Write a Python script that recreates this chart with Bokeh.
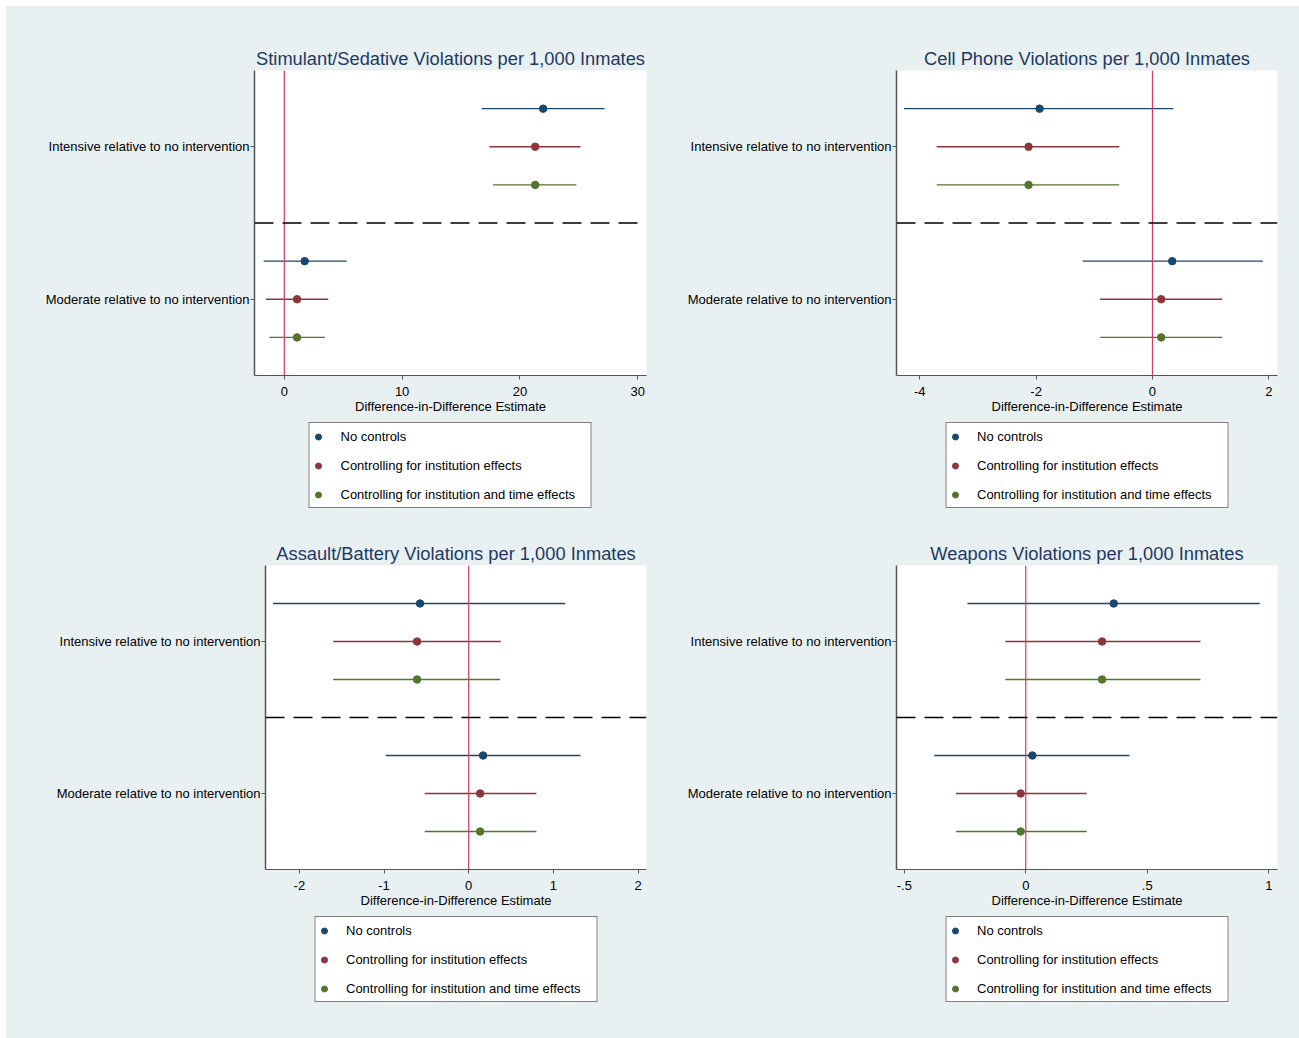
from bokeh.plotting import figure
from bokeh.models import Range1d, FixedTicker, Span, Legend, LegendItem
from bokeh.layouts import column, row
from bokeh.embed import file_html
from bokeh.resources import INLINE

# Comparison groups (y axis) and model specifications (series)
comparisons = ["Intensive relative to no intervention",
               "Moderate relative to no intervention"]
specs = ["No controls",
         "Controlling for institution effects",
         "Controlling for institution and time effects"]
spec_colors = ["#1A476F", "#90353B", "#55752F"]

# Estimates and 95% CIs: one inner list per specification,
# values ordered as [intensive, moderate]
stim_est = [[21.97, 1.73], [21.29, 1.08], [21.29, 1.08]]
stim_lo = [[16.75, -1.75], [17.40, -1.55], [17.72, -1.27]]
stim_hi = [[27.18, 5.29], [25.14, 3.73], [24.79, 3.45]]

phone_est = [[-1.94, 0.34], [-2.13, 0.15], [-2.13, 0.15]]
phone_lo = [[-4.27, -1.20], [-3.71, -0.90], [-3.71, -0.90]]
phone_hi = [[0.36, 1.90], [-0.57, 1.20], [-0.57, 1.20]]

assault_est = [[-0.575, 0.17], [-0.61, 0.135], [-0.61, 0.135]]
assault_lo = [[-2.31, -0.98], [-1.60, -0.52], [-1.60, -0.52]]
assault_hi = [[1.14, 1.32], [0.38, 0.80], [0.37, 0.80]]

weapons_est = [[0.362, 0.027], [0.314, -0.021], [0.314, -0.021]]
weapons_lo = [[-0.24, -0.377], [-0.084, -0.287], [-0.084, -0.287]]
weapons_hi = [[0.963, 0.427], [0.719, 0.251], [0.719, 0.251]]

stim_ticks = [0, 10, 20, 30]
stim_tick_labels = ["0", "10", "20", "30"]
phone_ticks = [-4, -2, 0, 2]
phone_tick_labels = ["-4", "-2", "0", "2"]
assault_ticks = [-2, -1, 0, 1, 2]
assault_tick_labels = ["-2", "-1", "0", "1", "2"]
weapons_ticks = [-0.5, 0, 0.5, 1]
weapons_tick_labels = ["-.5", "0", ".5", "1"]

BG = "#E8F0F2"
FONT = "Liberation Sans"
AXIS_COLOR = "#555555"


def make_panel(title, est, lo, hi, xr, ticks, tick_labels,
               width, height, left, right, top, bottom):
    p = figure(width=width, height=height,
               x_range=Range1d(*xr), y_range=Range1d(8, 0),
               output_backend="svg", toolbar_location=None,
               min_border_left=left, min_border_right=right,
               min_border_top=top, min_border_bottom=bottom,
               background_fill_color="white", border_fill_color=BG,
               outline_line_color=None)
    p.xgrid.visible = False
    p.ygrid.visible = False

    p.title.text = title
    p.title.align = "center"
    p.title.text_font = FONT
    p.title.text_font_size = "18.3px"
    p.title.text_font_style = "normal"
    p.title.text_color = "#1F3864"
    p.title.standoff = 4

    # zero reference and group separator
    p.add_layout(Span(location=0, dimension="height",
                      line_color="#D63A63", line_width=1.2))
    p.add_layout(Span(location=4, dimension="width",
                      line_color="black", line_width=1.5, line_dash="19 9"))

    for s, spec in enumerate(specs):
        ys = [1 + 4 * c + s for c in range(len(comparisons))]
        p.segment(x0=lo[s], y0=ys, x1=hi[s], y1=ys,
                  line_color=spec_colors[s], line_width=1.3)
        p.scatter(x=est[s], y=ys, size=7.5, marker="circle",
                  fill_color=spec_colors[s], line_color=spec_colors[s])

    # y axis: one label per comparison group
    yax = p.yaxis[0]
    yax.ticker = FixedTicker(ticks=[2, 6])
    yax.major_label_overrides = {2: comparisons[0], 6: comparisons[1]}
    yax.major_label_text_font = FONT
    yax.major_label_text_font_size = "13px"
    yax.major_label_text_color = "black"
    yax.major_label_standoff = 1
    yax.major_tick_out = 4
    yax.major_tick_in = 0
    yax.minor_tick_out = 0
    yax.minor_tick_in = 0
    yax.axis_line_color = AXIS_COLOR
    yax.axis_line_width = 1.5
    yax.major_tick_line_color = AXIS_COLOR

    xax = p.xaxis[0]
    xax.ticker = FixedTicker(ticks=ticks)
    xax.major_label_overrides = {t: l for t, l in zip(ticks, tick_labels)}
    xax.axis_label = "Difference-in-Difference Estimate"
    xax.axis_label_text_font = FONT
    xax.axis_label_text_font_size = "13px"
    xax.axis_label_text_font_style = "normal"
    xax.axis_label_text_color = "black"
    xax.axis_label_standoff = 0
    xax.major_label_text_font = FONT
    xax.major_label_text_font_size = "13px"
    xax.major_label_text_color = "black"
    xax.major_label_standoff = 7
    xax.major_tick_out = 4
    xax.major_tick_in = 0
    xax.minor_tick_out = 0
    xax.minor_tick_in = 0
    xax.axis_line_color = AXIS_COLOR
    xax.axis_line_width = 1.2
    xax.major_tick_line_color = AXIS_COLOR
    return p


def make_key(width, height, left, right):
    """Strip under a panel holding its legend, aligned to the panel frame."""
    k = figure(width=width, height=height,
               x_range=Range1d(0, 1), y_range=Range1d(0, 1),
               x_axis_location=None, y_axis_location=None,
               output_backend="svg", toolbar_location=None,
               min_border_left=left, min_border_right=right,
               min_border_top=0, min_border_bottom=0,
               background_fill_color=BG, border_fill_color=BG,
               outline_line_color=None)
    k.xgrid.visible = False
    k.ygrid.visible = False
    items = []
    for s, spec in enumerate(specs):
        # legend-only glyph: a single undefined point, so nothing is plotted
        r = k.scatter(x=[float("nan")], y=[float("nan")], size=7.5,
                      marker="circle",
                      fill_color=spec_colors[s], line_color=spec_colors[s])
        items.append(LegendItem(label=spec, renderers=[r]))
    legend = Legend(items=items, location="top", orientation="vertical",
                    border_line_color="black", border_line_width=1,
                    background_fill_color="white", background_fill_alpha=1,
                    label_text_font=FONT, label_text_font_size="13px",
                    label_text_color="black",
                    glyph_width=15, glyph_height=15,
                    label_width=249, label_height=24,
                    spacing=5, padding=1, label_standoff=15, margin=2)
    k.add_layout(legend, "center")
    return k


p1 = make_panel("Stimulant/Sedative Violations per 1,000 Inmates",
                stim_est, stim_lo, stim_hi, (-2.53, 30.74),
                stim_ticks, stim_tick_labels, 644, 414, 248, 4, 64, 45)
p2 = make_panel("Cell Phone Violations per 1,000 Inmates",
                phone_est, phone_lo, phone_hi, (-4.40, 2.15),
                phone_ticks, phone_tick_labels, 649, 414, 246, 22, 64, 45)
p3 = make_panel("Assault/Battery Violations per 1,000 Inmates",
                assault_est, assault_lo, assault_hi, (-2.40, 2.10),
                assault_ticks, assault_tick_labels, 644, 389, 259, 4, 40, 45)
p4 = make_panel("Weapons Violations per 1,000 Inmates",
                weapons_est, weapons_lo, weapons_hi, (-0.532, 1.036),
                weapons_ticks, weapons_tick_labels, 649, 389, 246, 22, 40, 45)

k1 = make_key(644, 105, 248, 4)
k2 = make_key(649, 105, 246, 22)
k3 = make_key(644, 124, 259, 4)
k4 = make_key(649, 124, 246, 22)

layout = column(
    row(column(p1, k1), column(p2, k2)),
    row(column(p3, k3), column(p4, k4)),
    margin=(6, 0, 0, 6), styles={"background-color": BG},
)

with open("out.html", "w") as f:
    f.write(file_html(layout, INLINE))
